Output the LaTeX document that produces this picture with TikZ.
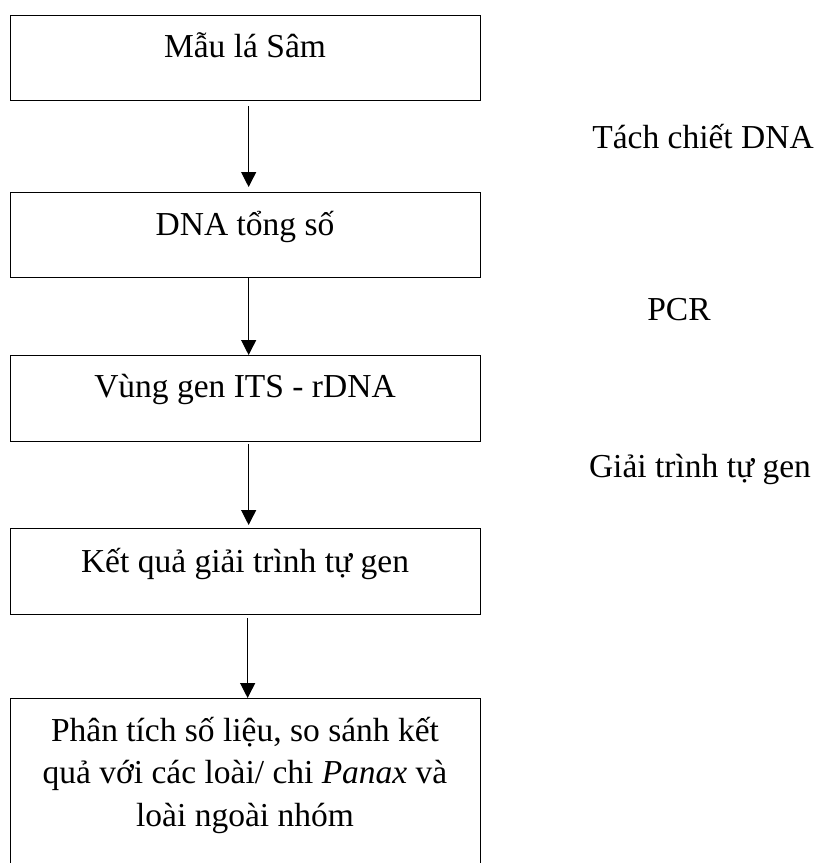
\documentclass[tikz,border=0pt]{standalone}
\usepackage{fontspec}
\setmainfont{Liberation Serif}
\usetikzlibrary{arrows.meta}
\begin{document}
\begin{tikzpicture}[x=1pt,y=1pt,
  box/.style={draw, line width=1.3pt, minimum width=470pt, inner sep=0pt, anchor=north west},
  lbl/.style={font=\fontsize{33.5}{42.5}\selectfont, anchor=base, inner sep=0pt},
  arr/.style={line width=1.2pt, -{Triangle[width=15pt,length=15pt]}}]
\useasboundingbox (0,0) rectangle (819,-863);
\clip (0,0) rectangle (819,-863);
% boxes
\node[box, minimum height=85pt] (b1) at (10,-15) {};
\node[box, minimum height=85pt] (b2) at (10,-192) {};
\node[box, minimum height=86pt] (b3) at (10,-355) {};
\node[box, minimum height=86pt] (b4) at (10,-528) {};
\node[box, minimum height=200pt] (b5) at (10,-698) {};
% box texts
\node[lbl] (t1) at (245,-57) {Mẫu lá Sâm};
\node[lbl] (t2) at (245,-235) {DNA tổng số};
\node[lbl] (t3) at (245,-397) {Vùng gen ITS - rDNA};
\node[lbl] (t4) at (245,-572) {Kết quả giải trình tự gen};
\node[lbl, align=center] (t5) at (245,-826) {Phân tích số liệu, so sánh kết\\quả với các loài/ chi \textit{Panax} và\\loài ngoài nhóm};
% side labels
\node[lbl] (s1) at (703,-148) {Tách chiết DNA};
\node[lbl] (s2) at (679,-320) {PCR};
\node[lbl] (s3) at (700,-477) {Giải trình tự gen};
% arrows
\draw[arr] ([xshift=3pt,yshift=-5pt]b1.south) -- ([xshift=3pt,yshift=5pt]b2.north);
\draw[arr] ([xshift=3pt]b2.south) -- ([xshift=3pt]b3.north);
\draw[arr] ([xshift=3pt,yshift=-2pt]b3.south) -- ([xshift=3pt,yshift=3pt]b4.north);
\draw[arr] ([xshift=2pt,yshift=-3pt]b4.south) -- ([xshift=2pt]b5.north);
\end{tikzpicture}
\end{document}
